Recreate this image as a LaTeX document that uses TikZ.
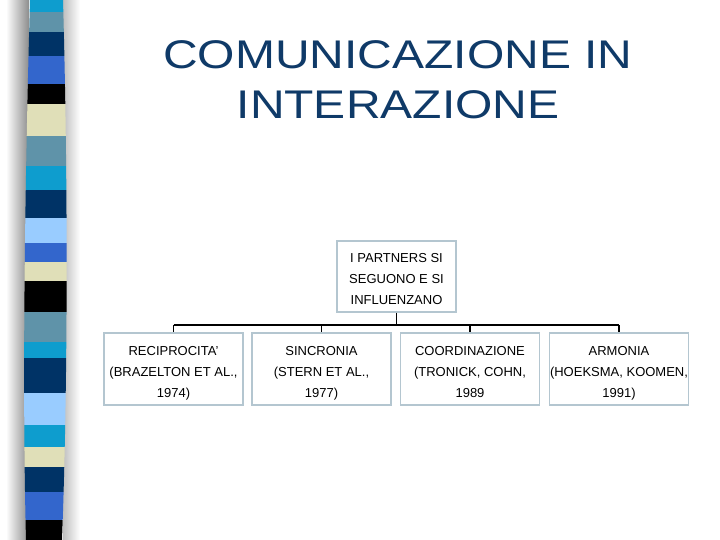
\documentclass[tikz,border=0pt]{standalone}
\usepackage{fontspec}
\setmainfont{Liberation Sans}
\newfontfamily\titlefont[FakeStretch=1.2]{Liberation Sans}
\usetikzlibrary{calc}
\definecolor{stcyan}{HTML}{0E9DCE}
\definecolor{ststeel}{HTML}{5F93A9}
\definecolor{stnavy}{HTML}{003366}
\definecolor{stroyal}{HTML}{3366CC}
\definecolor{stcream}{HTML}{E0DFB8}
\definecolor{stlight}{HTML}{99CCFF}
\definecolor{titlecol}{HTML}{0F3A68}
\definecolor{boxline}{HTML}{B4C6D0}
\newcommand{\boxtext}[1]{\raisebox{-3pt}[\height][\depth]{\begin{tabular}{@{}c@{}}#1\end{tabular}}}
\tikzset{
  box/.style={draw=boxline, line width=1.2pt, fill=white, inner sep=0pt,
    font=\fontsize{13}{21}\selectfont, text=black},
  topbox/.style={box, minimum width=119pt, minimum height=71pt},
  lowbox/.style={box, minimum width=139pt, minimum height=72pt},
  conn/.style={draw=black, line width=1.3pt},
  titletext/.style={text=titlecol, font=\titlefont\fontsize{40}{50}\selectfont, align=center, inner sep=0pt}
}
\begin{document}
\begin{tikzpicture}[x=1pt,y=-1pt]
\useasboundingbox (0,0) rectangle (720,540);
\fill[white] (0,0) rectangle (720,540);
% shadow of the bar
\shade[left color=white, right color=black!45] (6,0) rectangle (29,540);
\shade[left color=black!25, right color=white] (63,0) rectangle (80,540);
% striped bar
\begin{scope}
\clip (30,0) .. controls (25,180) and (22,380) .. (26,540) -- (62,540) .. controls (68,380) and (68,180) .. (63,0) -- cycle;
\foreach \ya/\yb/\c in {0/12/stcyan,12/32/ststeel,32/56/stnavy,56/84/stroyal,84/104/black,
  104/136/stcream,136/166/ststeel,166/190/stcyan,190/218/stnavy,218/243/stlight,243/262/stroyal,
  262/281/stcream,281/312/black,312/342/ststeel,342/358/stcyan,358/393/stnavy,393/425/stlight,
  425/447/stcyan,447/467/stcream,467/492/stnavy,492/520/stroyal,520/540/black}
  \fill[\c] (0,\ya) rectangle (80,\yb);
\end{scope}
% title
\node[titletext] (title) at (398,80) {COMUNICAZIONE IN\\INTERAZIONE};
% boxes
\node[topbox] (top) at (396.5,276.5) {\boxtext{I PARTNERS SI\\SEGUONO E SI\\INFLUENZANO}};
\node[lowbox] (b1) at (173.5,369) {\boxtext{RECIPROCITA'\\(BRAZELTON ET AL.,\\1974)}};
\node[lowbox] (b2) at (321.5,369) {\boxtext{SINCRONIA\\(STERN ET AL.,\\1977)}};
\node[lowbox] (b3) at (470,369) {\boxtext{COORDINAZIONE\\(TRONICK, COHN,\\1989}};
\node[lowbox] (b4) at (619,369) {\boxtext{ARMONIA\\(HOEKSMA, KOOMEN,\\1991)}};
% connectors
\coordinate (j) at ($(top.south)+(0,12.5)$);
\draw[conn] (top.south) -- (j);
\draw[conn] (j -| b1.north) -- (j -| b4.north);
\foreach \b in {b1,b2,b3,b4} \draw[conn] (j -| \b.north) -- (\b.north);
\end{tikzpicture}
\end{document}
